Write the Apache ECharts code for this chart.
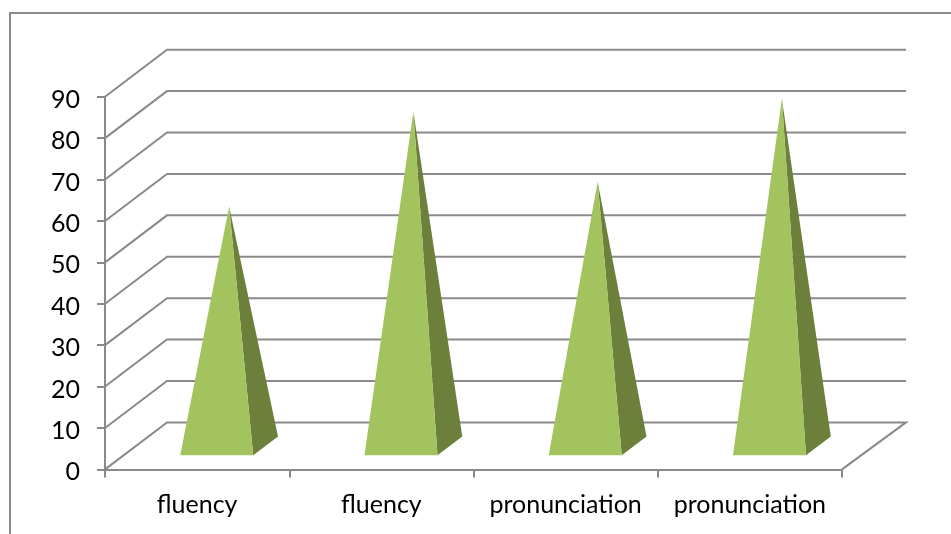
<!DOCTYPE html>
<html>
<head>
<meta charset="utf-8">
<style>html,body{margin:0;padding:0;background:#fff}#chart{width:951px;height:534px}</style>
<script src="https://cdn.jsdelivr.net/npm/echarts@6/dist/echarts.min.js"></script>
</head>
<body>
<div id="chart"></div>
<script>
// Scores per skill, drawn as pseudo-3D pyramids on a Cartesian grid
const categories = ['fluency', 'fluency', 'pronunciation', 'pronunciation'];
const scores = [57.8, 80.7, 63.8, 83.8];
const yTicks = [0, 10, 20, 30, 40, 50, 60, 70, 80, 90];

const LINE = '#8a8a8a';
const FRONT = '#a2c35e';
const SIDE = '#6c803c';
const TEXT_FONT = 'Lato, "Open Sans", sans-serif';
const LINE_WIDTH = 2;

// Oblique projection of the chart's depth axis
const DEPTH_X = 62;
const DEPTH_Y = -47;
const WALL_RIGHT_EXTRA = 2;
const BASE_HALF_WIDTH = 36.5;
const BASE_HALF_DEPTH = 0.2;

function renderWall(params, api) {
  const value = api.value(0);
  const sys = params.coordSys;
  const y = api.coord([0, value])[1];
  const left = sys.x;
  const right = sys.x + sys.width;
  const points = [
    [left, y],
    [left + DEPTH_X, y + DEPTH_Y],
    [right + DEPTH_X + WALL_RIGHT_EXTRA, y + DEPTH_Y]
  ];
  if (value === 0) points.push([right, y]);
  return {
    type: 'polyline',
    shape: { points },
    style: { stroke: LINE, lineWidth: LINE_WIDTH, fill: null }
  };
}

function renderPyramid(params, api) {
  const idx = api.value(0);
  const floorCentre = api.coord([idx, 0]);
  const apexY = api.coord([idx, api.value(1)])[1] + DEPTH_Y / 2;
  const cx = floorCentre[0] + DEPTH_X / 2 + 1;
  const cy = floorCentre[1] + DEPTH_Y / 2;
  const dx = DEPTH_X * BASE_HALF_DEPTH;
  const dy = DEPTH_Y * BASE_HALF_DEPTH;
  const frontLeft = [cx - BASE_HALF_WIDTH - dx, cy - dy];
  const frontRight = [cx + BASE_HALF_WIDTH - dx, cy - dy];
  const backRight = [cx + BASE_HALF_WIDTH + dx, cy + dy];
  const apex = [cx, apexY];
  return {
    type: 'group',
    children: [
      { type: 'polygon', shape: { points: [frontRight, backRight, apex] }, style: { fill: SIDE } },
      { type: 'polygon', shape: { points: [frontLeft, frontRight, apex] }, style: { fill: FRONT } }
    ]
  };
}

const chart = echarts.init(document.getElementById('chart'), null, { renderer: 'canvas' });
chart.setOption({
  animation: false,
  backgroundColor: '#ffffff',
  graphic: [{
    type: 'polyline',
    silent: true,
    shape: { points: [[10, 534], [10, 13], [951, 13]] },
    style: { stroke: LINE, lineWidth: LINE_WIDTH, fill: null }
  }],
  grid: { left: 105, top: 96.7, width: 737, height: 372.7 },
  xAxis: {
    type: 'category',
    data: categories,
    axisLine: { lineStyle: { color: LINE, width: LINE_WIDTH } },
    axisTick: { show: true, alignWithLabel: false, length: 8, lineStyle: { color: LINE, width: LINE_WIDTH } },
    axisLabel: { color: '#000', fontFamily: TEXT_FONT, fontSize: 25, margin: 23, interval: 0 },
    splitLine: { show: false }
  },
  yAxis: {
    type: 'value',
    min: 0,
    max: 90,
    interval: 10,
    axisLine: { show: true, lineStyle: { color: LINE, width: LINE_WIDTH } },
    axisTick: { show: true, length: 8, lineStyle: { color: LINE, width: LINE_WIDTH } },
    axisLabel: { color: '#000', fontFamily: TEXT_FONT, fontSize: 25, margin: 25, verticalAlign: 'top', lineHeight: 6 },
    splitLine: { show: false }
  },
  series: [
    {
      type: 'custom',
      silent: true,
      renderItem: renderWall,
      data: yTicks.map(v => [v]),
      encode: { y: 0 },
      z: 1
    },
    {
      type: 'custom',
      silent: true,
      renderItem: renderPyramid,
      data: scores.map((v, i) => [i, v]),
      encode: { x: 0, y: 1 },
      z: 3
    }
  ]
});
</script>
</body>
</html>
